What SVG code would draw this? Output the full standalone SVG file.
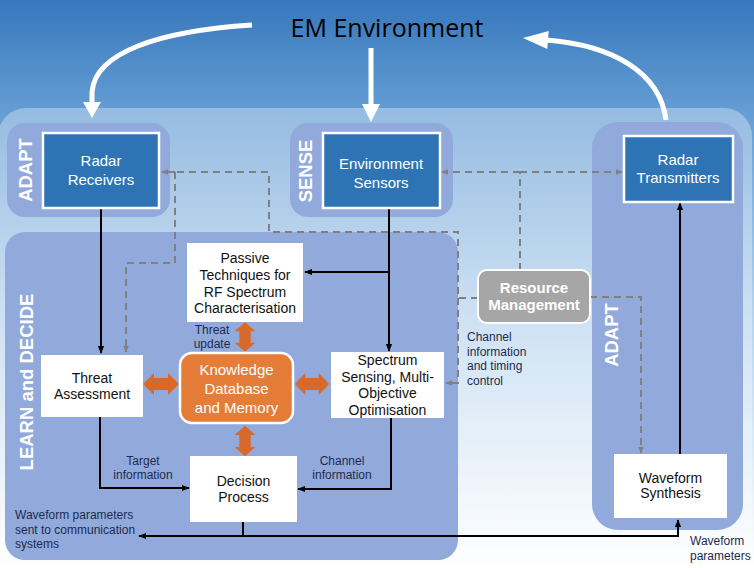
<svg xmlns="http://www.w3.org/2000/svg" width="754" height="568" viewBox="0 0 754 568">
<defs>
<linearGradient id="bg" x1="0" y1="0" x2="0" y2="1">
<stop offset="0" stop-color="#3777bc"/>
<stop offset="0.19" stop-color="#639cd3"/>
<stop offset="0.55" stop-color="#b5d3ee"/>
<stop offset="1" stop-color="#ffffff"/>
</linearGradient>
<marker id="ab" viewBox="0 0 10 10" refX="9" refY="5" markerWidth="4" markerHeight="4" orient="auto" markerUnits="strokeWidth">
<path d="M0,1 L10,5 L0,9 z" fill="#000"/>
</marker>
<marker id="ag" viewBox="0 0 10 10" refX="9" refY="5" markerWidth="3.5" markerHeight="3.5" orient="auto" markerUnits="strokeWidth">
<path d="M0,1 L10,5 L0,9 z" fill="#808080"/>
</marker>
<path id="dh" d="M-18,0 L-7,-11 L-7,-6 L7,-6 L7,-11 L18,0 L7,11 L7,6 L-7,6 L-7,11 z"/>
</defs>
<style>
.cont{fill:#91aadb}
.blue{fill:#2e74b5;stroke:#fff;stroke-width:2.5}
.wbox{fill:#fff}
.bt{font-family:"Liberation Sans",Arial,sans-serif;font-size:15px;fill:#fff;text-anchor:middle}
.kt{font-family:"Liberation Sans",Arial,sans-serif;font-size:14px;fill:#111;text-anchor:middle}
.lb{font-family:"Liberation Sans",Arial,sans-serif;font-size:12px;fill:#1e2b4f}
.vt{font-family:"Liberation Sans",Arial,sans-serif;font-size:18.5px;font-weight:bold;fill:#fff;text-anchor:middle}
.sl{fill:none;stroke:#000;stroke-width:2;marker-end:url(#ab)}
.sn{fill:none;stroke:#000;stroke-width:2}
.dl{fill:none;stroke:#808080;stroke-width:2;stroke-dasharray:7 5}
.da{fill:none;stroke:#808080;stroke-width:2;stroke-dasharray:7 5;marker-end:url(#ag)}
.wa{fill:none;stroke:#fff;stroke-width:5}
.or{fill:#d9692a}
</style>
<rect x="0" y="0" width="754" height="568" fill="url(#bg)"/>
<rect x="-2" y="108" width="754" height="480" rx="28" fill="#fff" fill-opacity="0.32"/>

<g id="containers">
<rect x="7" y="123" width="163" height="94" rx="18" class="cont"/>
<rect x="290" y="123" width="163" height="94" rx="18" class="cont"/>
<rect x="592" y="122" width="151" height="408" rx="26" class="cont"/>
<rect x="5" y="232" width="453" height="328" rx="20" class="cont"/>
<text class="vt" transform="translate(32,170) rotate(-90)">ADAPT</text>
<text class="vt" transform="translate(312,171) rotate(-90)">SENSE</text>
<text class="vt" transform="translate(618,335) rotate(-90)">ADAPT</text>
<text class="vt" transform="translate(33,382) rotate(-90)">LEARN and DECIDE</text>
</g>

<g id="em-environment">
<text x="387" y="37" font-family="'Open Sans','Noto Sans',sans-serif" font-size="25" fill="#000" text-anchor="middle">EM Environment</text>
</g>

<g id="connectors">
<path class="wa" d="M252,25 C160,31 95,52 92,92 L92,104"/>
<polygon points="83,102 101,102 92,118" fill="#fff"/>
<path class="wa" d="M371,48 L371,106"/>
<polygon points="362,104 380,104 371,122" fill="#fff"/>
<path class="wa" d="M666,120 C660,72 612,45 546,40"/>
<polygon points="548.7,31 547.3,49 523,38" fill="#fff"/>

<path class="sl" d="M101,208 V353"/>
<path class="sl" d="M389,208 V351"/>
<path class="sl" d="M389,272 H305"/>
<path class="sl" d="M100,417 V488 H189"/>
<path class="sl" d="M391,418 V489 H298"/>
<path class="sn" d="M243,522 V536"/>
<path class="sl" d="M243,536 H139"/>
<path class="sl" d="M243,536 H678 V520"/>
<path class="sl" d="M680,454 V203"/>

<path class="dl" d="M478,298 H458 V232 H269 V172 H175"/>
<path class="da" d="M175,172 H162"/>
<path class="da" d="M175,172 V263 H126 V352"/>
<path class="da" d="M458,298 V383 H446"/>
<path class="dl" d="M520,270 V172"/>
<path class="da" d="M520,172 H442"/>
<path class="da" d="M520,172 H622"/>
<path class="da" d="M590,297 H641 V453"/>

<use href="#dh" class="or" transform="translate(245,337) rotate(90) scale(0.82,0.95)"/>
<use href="#dh" class="or" transform="translate(161,384)"/>
<use href="#dh" class="or" transform="translate(312,384) scale(0.95,1)"/>
<use href="#dh" class="or" transform="translate(245,441) rotate(90) scale(0.85,0.95)"/>

<text class="lb" x="212" y="334" text-anchor="middle">Threat</text>
<text class="lb" x="212" y="348" text-anchor="middle">update</text>
<text class="lb" x="143" y="465" text-anchor="middle">Target</text>
<text class="lb" x="143" y="479" text-anchor="middle">information</text>
<text class="lb" x="342" y="465" text-anchor="middle">Channel</text>
<text class="lb" x="342" y="479" text-anchor="middle">information</text>
<text class="lb" x="15" y="519">Waveform parameters</text>
<text class="lb" x="15" y="534">sent to communication</text>
<text class="lb" x="15" y="548">systems</text>
<text class="lb" x="467" y="341">Channel</text>
<text class="lb" x="467" y="356">information</text>
<text class="lb" x="467" y="370">and timing</text>
<text class="lb" x="467" y="385">control</text>
<text class="lb" x="690" y="545">Waveform</text>
<text class="lb" x="690" y="560">parameters</text>
</g>

<g id="radar-receivers">
<rect x="43" y="133" width="116" height="75" class="blue"/>
<text class="bt" x="101" y="166">Radar</text>
<text class="bt" x="101" y="185">Receivers</text>
</g>
<g id="environment-sensors">
<rect x="323" y="133" width="117" height="75" class="blue"/>
<text class="bt" x="381" y="169">Environment</text>
<text class="bt" x="381" y="188">Sensors</text>
</g>
<g id="radar-transmitters">
<rect x="624" y="136" width="109" height="66" class="blue"/>
<text class="bt" x="678" y="165">Radar</text>
<text class="bt" x="678" y="183">Transmitters</text>
</g>
<g id="passive-techniques">
<rect x="187" y="243" width="116" height="79" class="wbox"/>
<text class="kt" x="245" y="263">Passive</text>
<text class="kt" x="245" y="280">Techniques for</text>
<text class="kt" x="245" y="297">RF Spectrum</text>
<text class="kt" x="245" y="313">Characterisation</text>
</g>
<g id="threat-assessment">
<rect x="41" y="355" width="102" height="62" class="wbox"/>
<text class="kt" x="92" y="383">Threat</text>
<text class="kt" x="92" y="399">Assessment</text>
</g>
<g id="knowledge-database">
<rect x="180" y="353" width="113" height="70" rx="12" fill="#e57c37" stroke="#fff" stroke-width="2.5"/>
<text class="bt" x="236.5" y="375" font-size="15.5">Knowledge</text>
<text class="bt" x="236.5" y="394" font-size="15.5">Database</text>
<text class="bt" x="236.5" y="413" font-size="15.5">and Memory</text>
</g>
<g id="spectrum-sensing">
<rect x="331" y="352" width="113" height="66" class="wbox"/>
<text class="kt" x="387.5" y="365">Spectrum</text>
<text class="kt" x="387.5" y="382">Sensing, Multi-</text>
<text class="kt" x="387.5" y="398">Objective</text>
<text class="kt" x="387.5" y="415">Optimisation</text>
</g>
<g id="decision-process">
<rect x="190" y="456" width="107" height="66" class="wbox"/>
<text class="kt" x="243.5" y="486">Decision</text>
<text class="kt" x="243.5" y="502">Process</text>
</g>
<g id="resource-management">
<rect x="478" y="270" width="112" height="53" rx="9" fill="#a6a6a6" stroke="#fff" stroke-width="2"/>
<text class="bt" x="534" y="293" font-size="14" font-weight="bold">Resource</text>
<text class="bt" x="534" y="310" font-size="14" font-weight="bold">Management</text>
</g>
<g id="waveform-synthesis">
<rect x="614" y="454" width="113" height="64" class="wbox"/>
<text class="kt" x="670.5" y="483" font-size="12">Waveform</text>
<text class="kt" x="670.5" y="498" font-size="12">Synthesis</text>
</g>
</svg>
